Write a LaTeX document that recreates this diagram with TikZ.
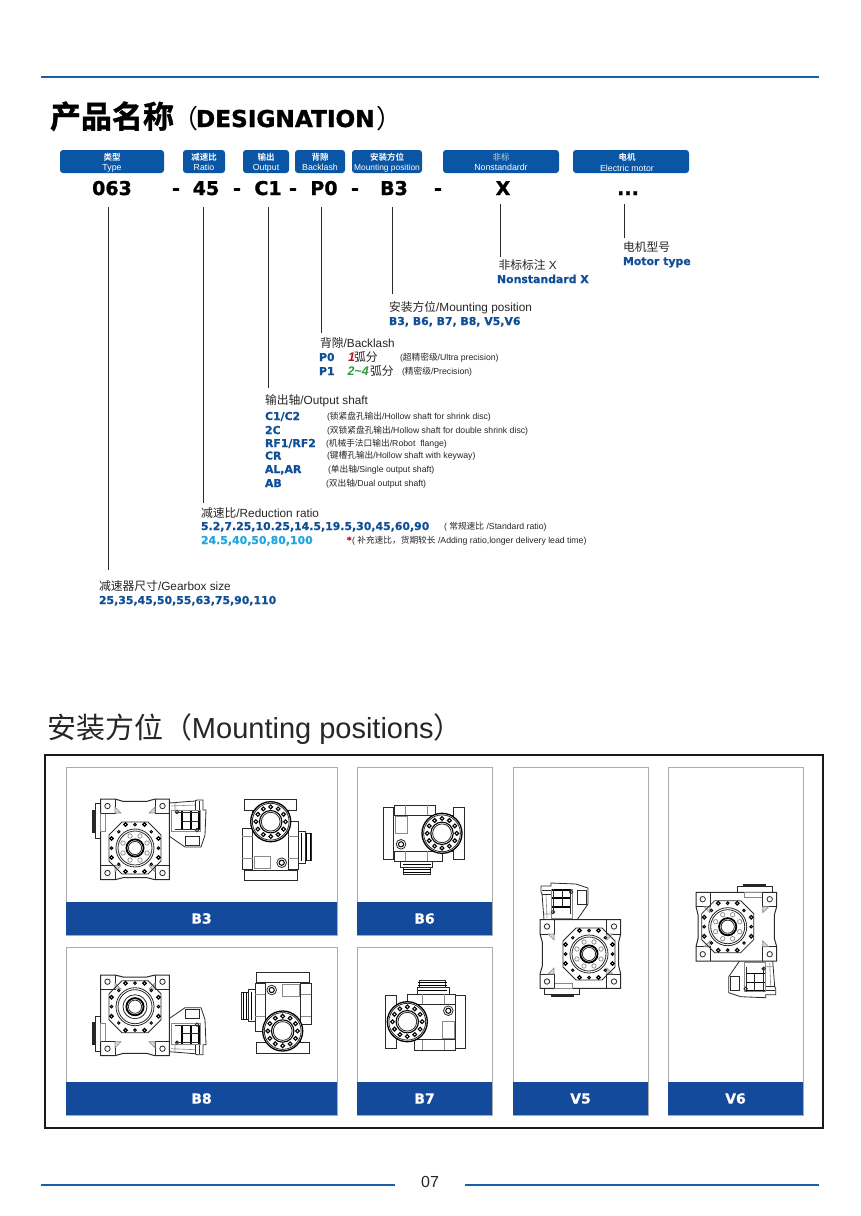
\documentclass[tikz,border=0pt]{standalone}
\usepackage{fontspec}
\setmainfont{Liberation Sans}
\newfontfamily\cjk{Noto Sans CJK SC}
\newfontfamily\cjkm{Noto Sans CJK SC}[FakeBold=0.6]
\newfontfamily\cjkb{Noto Sans CJK SC Bold}
\newfontfamily\cjkh{Noto Sans CJK SC Bold}[FakeBold=1.2]
\newfontfamily\hvy{DejaVu Sans Bold}[FakeBold=0.5]
\newfontfamily\hvyx{DejaVu Sans Bold}[FakeBold=1.2]
\definecolor{pillblue}{HTML}{0A56A5}
\definecolor{bandblue}{HTML}{134A9C}
\definecolor{ruleblue}{HTML}{1560A8}
\definecolor{txtblue}{HTML}{0F4F97}
\definecolor{txtcyan}{HTML}{1FA6DE}
\definecolor{txtred}{HTML}{B5121B}
\definecolor{txtgreen}{HTML}{2F9C3E}
\definecolor{txtdark}{HTML}{262626}
\definecolor{gline}{HTML}{2A2A2A}
\definecolor{gsoft}{HTML}{8A8A8A}
\definecolor{panelgray}{HTML}{ABABAB}
\newcommand\fs[1]{\fontsize{#1}{#1}\selectfont}
\newcommand\cj[1]{{\cjk #1}}
\tikzset{
  txt/.style={inner sep=0pt,outer sep=0pt,anchor=base west,text=txtdark},
  lab/.style={txt,font=\fs{11.8},yshift=-4.3pt},
  val/.style={txt,font=\hvy\fs{10.9},text=txtblue,yshift=-4pt},
  note/.style={txt,font=\fs{8.7},yshift=-3pt},
  token/.style={inner sep=0pt,anchor=base,font=\hvyx\fs{19},text=black,yshift=-7pt},
  pill/.style={fill=pillblue,rounded corners=3pt,inner sep=0pt,minimum height=23pt},
  pillc/.style={inner sep=0pt,anchor=base,text=white,font=\cjkb\fs{8.5}},
  pilll/.style={inner sep=0pt,anchor=base,text=white,font=\fs{8.8}},
  leader/.style={draw=gline,line width=0.7pt},
  rulebar/.style={draw=ruleblue,line width=2pt},
  panel/.style={draw=panelgray,line width=0.8pt,fill=white},
  band/.style={fill=bandblue,inner sep=0pt,text=white,font=\hvy\fs{14}},
  gb/.style={draw=gline,line width=0.8pt},
  gbs/.style={draw=gsoft,line width=0.6pt},
  gbt/.style={draw=black,line width=1.2pt},
}
% worm gearbox seen from the flange, origin at the flange centre
\newcommand\gbFront[1]{%
  % motor stub
  \draw[gb,fill=white] (-40,-45) rectangle (-34,-10);
  \fill[black!85] (-42.7,-38) rectangle (-40,-15);
  % input housing
  \draw[gb,fill=white] (34,-45) -- (60,-47) -- (62,-48) -- (68,-48) -- (68,-38) -- (71,-38) -- (70,-13) -- (66,-1) -- (50,-1) -- (34,-12) -- cycle;
  \draw[gbs] (36,-38) rectangle (65,-17);
  \draw[gb] (50,-12) rectangle (64,-3);
  \draw[gbs] (40,-46) -- (40,-38) (36,-42) -- (60,-43);
  \draw[gb] (60,-47) -- (60,-38) (64,-47) -- (64,-38);
  \foreach \xx in {47,56,64}{\draw[gbt] (\xx,-37) -- (\xx,-18);}
  \draw[gb] (40,-36) -- (65,-36) (47,-27) -- (64,-27) (40,-19) -- (65,-19);
  \draw[gb] (42,-36) circle (1.7) (62,-18) circle (1.7);
  % body
  \draw[gb,line width=1pt,fill=white] (-34.3,-49) -- (-20,-49) -- (-12,-46.7) -- (12,-46.7) -- (20,-49) -- (34.3,-49)
     -- (34.3,31.7) -- (20,31.7) -- (12,29.7) -- (-12,29.7) -- (-20,31.7) -- (-34.3,31.7) -- cycle;
  \draw[gbs,fill=white] (-34.3,-35) rectangle (-29.3,-17);
  \foreach \sx in {-1,1}{
    \draw[gb] (\sx*34.3,-35) -- (\sx*20,-35) -- (\sx*20,-49);
    \draw[gb] (\sx*34.3,17.7) -- (\sx*20,17.7) -- (\sx*20,31.7);
    \draw[gb] (\sx*27.5,-42) circle (2.7) (\sx*27.5,25) circle (2.7);
    \draw[gbs,fill=black!15] (\sx*20,-35) -- (\sx*14,-35) -- (\sx*20,-41) -- cycle;
    \draw[gbs,fill=black!15] (\sx*20,17.7) -- (\sx*14,17.7) -- (\sx*20,23.7) -- cycle;
  }
  % flange
  \draw[gb] (-13,-26) -- (13,-26) -- (26,-13) -- (26,13) -- (13,26) -- (-13,26) -- (-26,13) -- (-26,-13) -- cycle;
  \foreach \px/\py in {-9.5/-23.5,9.5/-23.5,-9.5/23.5,9.5/23.5,-23.5/-9.5,-23.5/9.5,23.5/-9.5,23.5/9.5}{
    \draw[draw=black,line width=1.2pt] (\px,\py) circle (1.8);}
  \foreach \px/\py in {0/-23.5,0/23.5,-23.5/0,23.5/0}{
    \draw[draw=black,line width=1pt] (\px,\py) circle (1.3);}
  \foreach \pa in {45,135,225,315}{\draw[draw=black,line width=0.9pt] (\pa:23) circle (1.3);}
  \draw[gb] (0,0) circle (19) (0,0) circle (17);
  \ifnum#1=1
    \foreach \pa in {22.5,67.5,...,337.5}{\draw[gbs,line width=0.7pt] (\pa:13) circle (2.2);}
  \else
    \draw[gb] (0,0) circle (12);
  \fi
  \draw[draw=black,line width=1.8pt] (0,0) circle (8.6);
  \draw[gb] (0,0) circle (6.6);
}
% side view, origin at the flange centre
\newcommand\gbSide{%
  % motor discs
  \draw[gb,fill=white] (27.7,10) rectangle (34.3,41.7);
  \draw[gb,fill=white] (34.3,11.7) rectangle (41,38.3);
  \foreach \xx in {31,36,39.5}{\draw[gbt] (\xx,11) -- (\xx,39.5);}
  % body
  \draw[gb,fill=white] (-18,-11) rectangle (17.7,48.3);
  \draw[gb,fill=white] (-28.3,6.7) rectangle (-18,47.7);
  \draw[gb,fill=white] (17.7,0) rectangle (27.7,47.7);
  \draw[gbs] (-28.3,15) -- (-18,15) (-28.3,36.7) -- (-18,36.7) (17.7,15) -- (27.7,15) (17.7,36.7) -- (27.7,36.7);
  \draw[gb,line width=1pt,fill=white] (-26.3,-22.3) rectangle (26,-11);
  \draw[gb,line width=1pt,fill=white] (-26.3,48.3) rectangle (26.3,58.3);
  \draw[gbs] (-16.7,35) rectangle (0,46.7);
  \draw[gb] (11,41) circle (4.8);
  \draw[draw=black,line width=1pt] (11,41) circle (2.6);
  % flange
  \draw[draw=black,line width=1.3pt,fill=white] (0,0) circle (20);
  \draw[gb] (0,0) circle (18.4);
  \foreach \pa in {0,30,...,330}{\draw[draw=black,line width=1.1pt] (\pa:14.8) circle (1.9);}
  \draw[draw=black,line width=1.1pt,fill=white] (0,0) circle (11.2);
  \draw[gb] (0,0) circle (9.4);
}
\begin{document}
\begin{tikzpicture}[x=1pt,y=-1pt]
\useasboundingbox (0,0) rectangle (860,1216);
\fill[white] (0,0) rectangle (860,1216);
% page rules
\coordinate (rt1) at (41,77); \coordinate (rt2) at (819,77);
\coordinate (rb1) at (41,1185); \coordinate (rb2) at (395,1185);
\coordinate (rb3) at (465,1185); \coordinate (rb4) at (819,1185);
\draw[rulebar] (rt1) -- (rt2);
\draw[rulebar] (rb1) -- (rb2);
\draw[rulebar] (rb3) -- (rb4);
\node[inner sep=0pt,font=\fs{16},text=txtdark] (pageno) at (430,1182) {07};
% title
\node[txt,text=black,font=\cjkh\fs{31}] (title) at (50,128) {产品名称};
\node[txt,text=black,font=\cjk\fs{26}] (titlel) at (172,128) {（};
\node[txt,text=black,font=\hvyx\fs{23.2}] (titlem) at (196,127) {DESIGNATION};
\node[txt,text=black,font=\cjk\fs{26}] (titler) at (376,128) {）};
% pills
\node[pill,minimum width=104pt] (pType) at (112,161.5) {};
\node[pill,minimum width=42pt] (pRatio) at (204,161.5) {};
\node[pill,minimum width=46pt] (pOut) at (266,161.5) {};
\node[pill,minimum width=50pt] (pBack) at (320,161.5) {};
\node[pill,minimum width=70pt] (pMount) at (387,161.5) {};
\node[pill,minimum width=116pt] (pNon) at (501,161.5) {};
\node[pill,minimum width=116pt] (pMotor) at (631,161.5) {};
\node[pillc] (cType) at (112,160.5) {类型};
\node[pilll] (eType) at (112,170.5) {Type};
\node[pillc] (cRatio) at (204,160.5) {减速比};
\node[pilll] (eRatio) at (204,170.5) {Ratio};
\node[pillc] (cOut) at (266,160.5) {输出};
\node[pilll] (eOut) at (266,170.5) {Output};
\node[pillc] (cBack) at (320,160.5) {背隙};
\node[pilll] (eBack) at (320,170.5) {Backlash};
\node[pillc] (cMount) at (387,160.5) {安装方位};
\node[pilll,font=\fs{8.4}] (eMount) at (387,170.5) {Mounting position};
\node[pillc,font=\cjk\fs{8.5},text=white!72!pillblue] (cNon) at (501,160.5) {非标};
\node[pilll] (eNon) at (501,170.5) {Nonstandardr};
\node[pillc] (cMotor) at (627,160.5) {电机};
\node[pilll] (eMotor) at (627,171) {Electric motor};
% tokens
\node[token] (t063) at (112,188) {063};
\node[token] (d1) at (176,188) {-};
\node[token] (t45) at (206,188) {45};
\node[token] (d2) at (237,188) {-};
\node[token] (tC1) at (268,188) {C1};
\node[token] (d3) at (293,188) {-};
\node[token] (tP0) at (324,188) {P0};
\node[token] (d4) at (355,188) {-};
\node[token] (tB3) at (394,188) {B3};
\node[token] (d5) at (438,188) {-};
\node[token] (tX) at (503,188) {X};
\node[token] (tM) at (628,188) {...};
% leaders
\coordinate (a1) at (108,207); \coordinate (b1) at (108,570);
\coordinate (a2) at (203,207); \coordinate (b2) at (203,503);
\coordinate (a3) at (268.5,207); \coordinate (b3) at (268.5,388);
\coordinate (a4) at (321,207); \coordinate (b4) at (321,333);
\coordinate (a5) at (392,207); \coordinate (b5) at (392,294);
\coordinate (a6) at (500,204); \coordinate (b6) at (500,257);
\coordinate (a7) at (624.5,204); \coordinate (b7) at (624.5,238);
\foreach \i in {1,...,7}{\draw[leader] (a\i) -- (b\i);}
% motor / nonstandard / mounting
\node[lab] (lMotor) at (623,247) {\cj{电机型号}};
\node[val] (vMotor) at (623,261) {Motor type};
\node[lab] (lNon) at (498.5,265) {\cj{非标标注} X};
\node[val] (vNon) at (497,279) {Nonstandard X};
\node[lab] (lMount) at (389,307) {\cj{安装方位}/Mounting position};
\node[val] (vMount) at (389,321) {B3, B6, B7, B8, V5,V6};
% backlash
\node[lab] (lBack) at (320,343) {\cj{背隙}/Backlash};
\node[val] (vP0) at (319,357) {P0};
\node[val,text=txtred,font=\bfseries\itshape\fs{12.5}] (vP0a) at (348,357) {1};
\node[lab] (vP0b) at (354,357) {\cj{弧分}};
\node[note] (nP0) at (400,357) {(\cj{超精密级}/Ultra precision)};
\node[val] (vP1) at (319,371) {P1};
\node[val,text=txtgreen,font=\bfseries\itshape\fs{12.5}] (vP1a) at (347.5,371) {2\char`\~4};
\node[lab] (vP1b) at (370,371) {\cj{弧分}};
\node[note] (nP1) at (402,371) {(\cj{精密级}/Precision)};
% output shaft
\node[lab] (lOut) at (265,400) {\cj{输出轴}/Output shaft};
\node[val] (vO1) at (265,416) {C1/C2};
\node[note] (nO1) at (327,416) {(\cj{锁紧盘孔输出}/Hollow shaft for shrink disc)};
\node[val] (vO2) at (265,430) {2C};
\node[note] (nO2) at (327,430) {(\cj{双锁紧盘孔输出}/Hollow shaft for double shrink disc)};
\node[val] (vO3) at (265,443) {RF1/RF2};
\node[note] (nO3) at (326,443) {(\cj{机械手法口输出}/Robot\ \ flange)};
\node[val] (vO4) at (265,455.5) {CR};
\node[note] (nO4) at (327,455.5) {(\cj{键槽孔输出}/Hollow shaft with keyway)};
\node[val] (vO5) at (265,469) {AL,AR};
\node[note] (nO5) at (328,469) {(\cj{单出轴}/Single output shaft)};
\node[val] (vO6) at (265,483) {AB};
\node[note] (nO6) at (326,483) {(\cj{双出轴}/Dual output shaft)};
% ratio
\node[lab] (lRatio) at (201,513) {\cj{减速比}/Reduction ratio};
\node[val] (vR1) at (201,526) {5.2,7.25,10.25,14.5,19.5,30,45,60,90};
\node[note] (nR1) at (444,526) {( \cj{常规速比} /Standard ratio)};
\node[val,text=txtcyan] (vR2) at (201,540) {24.5,40,50,80,100};
\node[note,text=txtred,font=\hvy\fs{8.5}] (star) at (347,540) {*};
\node[note] (nR2) at (352,540) {( \cj{补充速比，货期较长} /Adding ratio,longer delivery lead time)};
% size
\node[lab] (lSize) at (99,586) {\cj{减速器尺寸}/Gearbox size};
\node[val] (vSize) at (99,600) {25,35,45,50,55,63,75,90,110};
% section 2
\node[txt,font=\fs{29}] (sec2) at (47,738) {\cj{安装方位（}Mounting positions\cj{）}};
\draw[draw=black!90,line width=1.5pt] (45,755) rectangle (823,1128);
% panels
\draw[panel] (66,767) rectangle (337,935);
\draw[panel] (66,947) rectangle (337,1115);
\draw[panel] (357,767) rectangle (492,935);
\draw[panel] (357,947) rectangle (492,1115);
\draw[panel] (513,767) rectangle (648,1115);
\draw[panel] (668,767) rectangle (803,1115);
\node[band,minimum width=271pt,minimum height=33pt] (bB3) at (201.5,918.5) {B3};
\node[band,minimum width=271pt,minimum height=33pt] (bB8) at (201.5,1098.5) {B8};
\node[band,minimum width=135pt,minimum height=33pt] (bB6) at (424.5,918.5) {B6};
\node[band,minimum width=135pt,minimum height=33pt] (bB7) at (424.5,1098.5) {B7};
\node[band,minimum width=135pt,minimum height=33pt] (bV5) at (580.5,1098.5) {V5};
\node[band,minimum width=135pt,minimum height=33pt] (bV6) at (735.5,1098.5) {V6};
% gearboxes
\begin{scope}[shift={(135,848)}]\gbFront{1}\end{scope}
\begin{scope}[shift={(270.7,821.7)}]\gbSide\end{scope}
\begin{scope}[shift={(135,1006.7)},yscale=-1]\gbFront{0}\end{scope}
\begin{scope}[shift={(282.7,1031)},rotate=180]\gbSide\end{scope}
\begin{scope}[shift={(442,833.3)},rotate=-90]\gbSide\end{scope}
\begin{scope}[shift={(407.3,1021.7)},rotate=90]\gbSide\end{scope}
\begin{scope}[shift={(589,954)},rotate=90]\gbFront{1}\end{scope}
\begin{scope}[shift={(727.7,926.7)},rotate=-90]\gbFront{1}\end{scope}
\end{tikzpicture}
\end{document}
